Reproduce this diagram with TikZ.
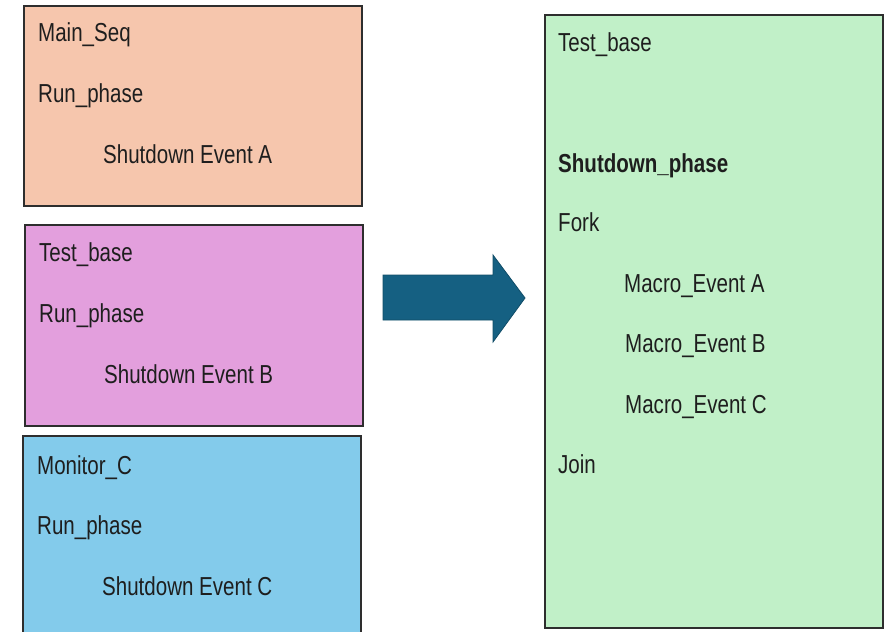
\documentclass[tikz,border=0pt]{standalone}
\usepackage{fontspec}
\setmainfont{Liberation Sans}[FakeStretch=0.79]
\definecolor{peach}{HTML}{F6C6AD}
\definecolor{orchid}{HTML}{E39FDD}
\definecolor{sky}{HTML}{83CBEB}
\definecolor{mint}{HTML}{C1F0C8}
\definecolor{arrowteal}{HTML}{156082}
\definecolor{edgegray}{HTML}{2E2E2E}
\definecolor{ink}{HTML}{1E1E1E}
\tikzset{
  panel/.style={draw=edgegray, line width=1.3pt, anchor=north west,
    inner sep=0pt, outer sep=0pt, minimum width=338pt},
  lbl/.style={anchor=base west, inner sep=0pt, text=ink,
    font=\fontsize{26}{30}\selectfont},
  boldlbl/.style={lbl, font=\fontsize{26}{30}\selectfont\bfseries},
  blockarrow/.style={fill=arrowteal, draw=arrowteal!80!black, line width=0.8pt,
    line join=miter},
}
\begin{document}
\begin{tikzpicture}[x=1pt, y=-1pt]
  \clip (0,0) rectangle (884,632);
  \fill[white] (0,0) rectangle (884,632);

  % left column: three source panels
  \node[panel, fill=peach,  minimum height=200pt] (mainseq) at (24,6) {};
  \node[panel, fill=orchid, minimum height=201pt] (testb)   at (25,225) {};
  \node[panel, fill=sky,    minimum height=215pt] (monc)    at (23,436) {};

  \node[lbl] (a1) at (38,41)  {Main\_Seq};
  \node[lbl] (a2) at (38,102) {Run\_phase};
  \node[lbl] (a3) at (103,163) {Shutdown Event A};

  \node[lbl] (b1) at (39,261) {Test\_base};
  \node[lbl] (b2) at (39,322) {Run\_phase};
  \node[lbl] (b3) at (104,383) {Shutdown Event B};

  \node[lbl] (c1) at (37,474) {Monitor\_C};
  \node[lbl] (c2) at (37,534) {Run\_phase};
  \node[lbl] (c3) at (102,595) {Shutdown Event C};

  % right column: merged shutdown phase
  \node[panel, fill=mint, minimum height=613pt] (merged) at (545,15) {};

  \node[lbl]     (m1) at (558,51)  {Test\_base};
  \node[boldlbl] (m2) at (558,172) {Shutdown\_phase};
  \node[lbl]     (m3) at (558,231) {Fork};
  \node[lbl]     (m4) at (624,292) {Macro\_Event A};
  \node[lbl]     (m5) at (625,352) {Macro\_Event B};
  \node[lbl]     (m6) at (625,413) {Macro\_Event C};
  \node[lbl]     (m7) at (558,473) {Join};

  % block arrow between the columns
  \draw[blockarrow] (383,275) -- (493,275) -- (493,255) -- (525,298)
    -- (493,342) -- (493,320) -- (383,320) -- cycle;
\end{tikzpicture}
\end{document}
